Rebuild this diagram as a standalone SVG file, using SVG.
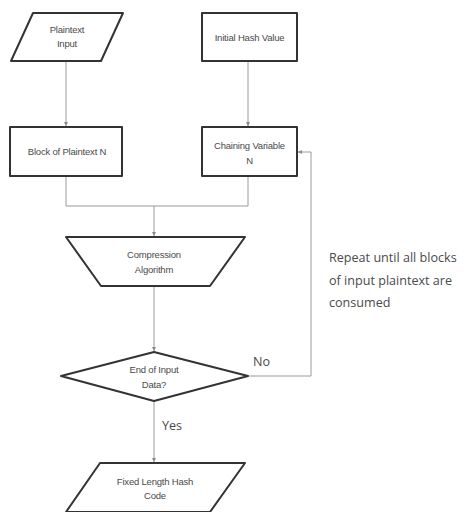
<svg xmlns="http://www.w3.org/2000/svg" width="464" height="512" viewBox="0 0 464 512">
  <style>
    .shape { fill: #ffffff; stroke: #333333; stroke-width: 2; stroke-linejoin: round; }
    .label { font-family: "Liberation Sans", Arial, sans-serif; font-size: 9.5px; fill: #4a4a4a; text-anchor: middle; letter-spacing: -0.2px; }
    .edge { fill: none; stroke: #9a9a9a; stroke-width: 1; }
    .note { font-family: "Open Sans", "Noto Sans", sans-serif; font-size: 12.6px; fill: #4a4a4a; }
  </style>
  <defs>
    <marker id="arrow" viewBox="0 0 6 6" refX="6" refY="3" markerWidth="4" markerHeight="4" orient="auto">
      <path d="M0,0 L6,3 L0,6 z" fill="#8a8a8a"/>
    </marker>
  </defs>
  <rect width="464" height="512" fill="#ffffff"/>

  <!-- connectors -->
  <g id="connectors">
    <path class="edge" d="M66,61 V126" marker-end="url(#arrow)"/>
    <path class="edge" d="M248,61 V126" marker-end="url(#arrow)"/>
    <path class="edge" d="M66,176 V206 H248 V176"/>
    <path class="edge" d="M154,206 V236" marker-end="url(#arrow)"/>
    <path class="edge" d="M154,286 V351" marker-end="url(#arrow)"/>
    <path class="edge" d="M248,376 H311 V152 H298" marker-end="url(#arrow)"/>
    <path class="edge" d="M154,401 V462" marker-end="url(#arrow)"/>
    <text class="note" x="253" y="366" font-size="12">No</text>
    <text class="note" x="162" y="430" font-size="12">Yes</text>
    <text class="note" x="329" y="262">Repeat until all blocks</text>
    <text class="note" x="329" y="285">of input plaintext are</text>
    <text class="note" x="329" y="307">consumed</text>
  </g>

  <g id="plaintext-input">
    <polygon class="shape" points="33,13 123,13 101,61 11,61"/>
    <text class="label" x="67" y="33">Plaintext</text>
    <text class="label" x="67" y="47">Input</text>
  </g>

  <g id="initial-hash">
    <rect class="shape" x="202" y="13" width="95" height="48"/>
    <text class="label" x="249.5" y="41">Initial Hash Value</text>
  </g>

  <g id="plaintext-block">
    <rect class="shape" x="10" y="127" width="112" height="49"/>
    <text class="label" x="67" y="155">Block of Plaintext N</text>
  </g>

  <g id="chaining-variable">
    <rect class="shape" x="202" y="127" width="95" height="49"/>
    <text class="label" x="249.5" y="149">Chaining Variable</text>
    <text class="label" x="249.5" y="164">N</text>
  </g>

  <g id="compression">
    <polygon class="shape" points="66,237 245,237 210,286 101,286"/>
    <text class="label" x="154" y="258">Compression</text>
    <text class="label" x="154" y="273">Algorithm</text>
  </g>

  <g id="end-check">
    <polygon class="shape" points="154,352 248,376 154,401 61,376"/>
    <text class="label" x="154" y="373">End of Input</text>
    <text class="label" x="154" y="388">Data?</text>
  </g>

  <g id="hash-output">
    <polygon class="shape" points="100,463 245,463 210,512 66,512"/>
    <text class="label" x="155" y="485">Fixed Length Hash</text>
    <text class="label" x="155" y="499">Code</text>
  </g>
</svg>
